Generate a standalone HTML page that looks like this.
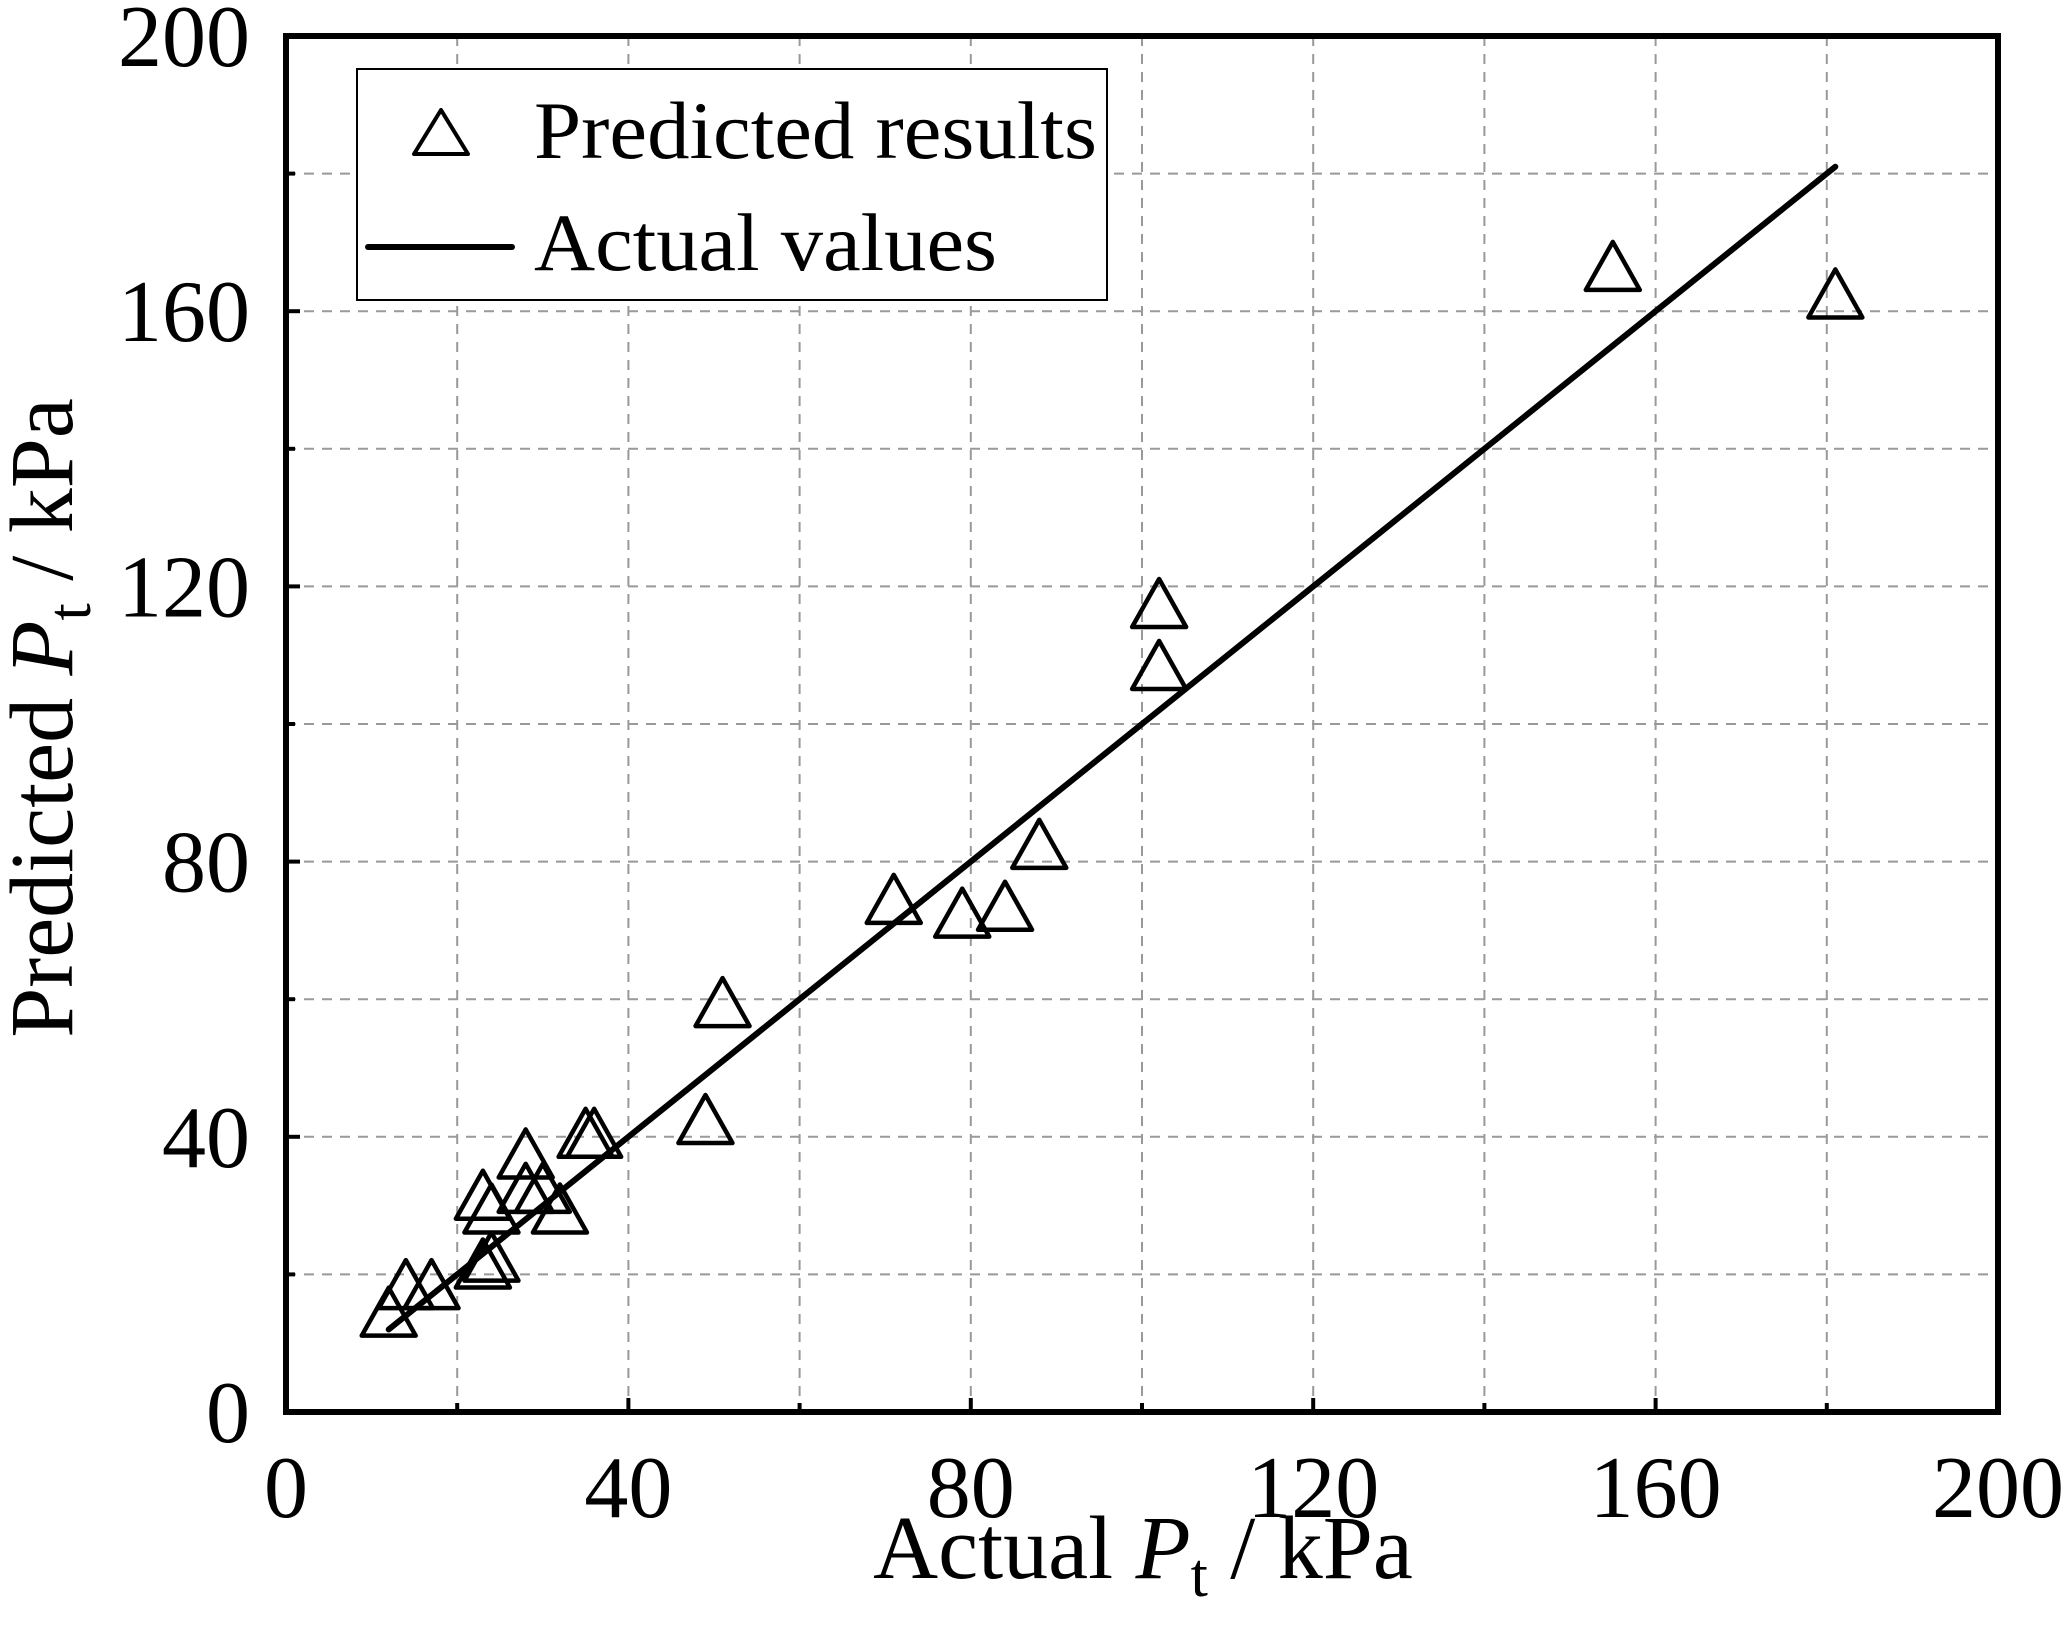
<!DOCTYPE html>
<html><head><meta charset="utf-8"><style>
html,body{margin:0;padding:0;background:#fff;}
svg{display:block;font-family:"Liberation Serif",serif;}
</style></head><body>
<svg id="chart" width="2066" height="1642" viewBox="0 0 2066 1642" xmlns="http://www.w3.org/2000/svg">
<g id="grid"></g>
<g id="series"></g>
<rect x="286" y="36" width="1712" height="1376" fill="none" stroke="#000" stroke-width="6"/>
<g id="ticks"></g>
<text x="1143" y="1578" font-size="90" text-anchor="middle">Actual <tspan font-style="italic">P</tspan><tspan font-size="62" dy="18">t</tspan><tspan dy="-18"> / kPa</tspan></text>
<text transform="translate(72,718) rotate(-90)" font-size="90" text-anchor="middle">Predicted <tspan font-style="italic">P</tspan><tspan font-size="62" dy="18">t</tspan><tspan dy="-18"> / kPa</tspan></text>
<g>
<rect x="357" y="69" width="750" height="231" fill="#fff" stroke="#000" stroke-width="2"/>
<polygon points="441,110 414,154 468,154" fill="none" stroke="#000" stroke-width="4" stroke-linejoin="round"/>
<text x="534" y="158" font-size="82" textLength="563" lengthAdjust="spacingAndGlyphs">Predicted results</text>
<line x1="368" y1="247" x2="512" y2="247" stroke="#000" stroke-width="6" stroke-linecap="round"/>
<text x="534" y="270" font-size="82" textLength="463" lengthAdjust="spacingAndGlyphs">Actual values</text>
</g>
</svg>
<script>
const xTicks=[0,40,80,120,160,200];
const yTicks=[0,40,80,120,160,200];
const actualX=[12,14,17,23,24,23,24,28,28,30,32,35,36,49,51,71,79,84,88,102,102,155,181];
const predictedY=[14,18,18,21,22,31,29,37,32,32,29,40,40,42,59,74,72,73,82,117,108,166,162];
const lineX=[12,181];
const lineY=[12,181];
const NS="http://www.w3.org/2000/svg";
const X0=286,X1=1998,Y0=1412,Y1=36;
function sx(v){return X0+(v-0)/200*(X1-X0);}
function sy(v){return Y0-(v-0)/200*(Y0-Y1);}
function mk(tag,attrs,parent){const e=document.createElementNS(NS,tag);for(const k in attrs)e.setAttribute(k,attrs[k]);parent.appendChild(e);return e;}
const grid=document.getElementById('grid'),ticks=document.getElementById('ticks'),series=document.getElementById('series');
for(let v=20;v<200;v+=20){
  const gx=mk('line',{x1:sx(v),x2:sx(v),y1:Y1,y2:Y0,stroke:'#999','stroke-width':2,'stroke-dasharray':'10,8'},grid);
  
  
  const gy=mk('line',{x1:X0,x2:X1,y1:sy(v),y2:sy(v),stroke:'#999','stroke-width':2,'stroke-dasharray':'10,8'},grid);
  
  
  const major=(v%40===0);const len=major?14:9;
  const tx=mk('line',{x1:sx(v),x2:sx(v),y1:Y0,y2:Y0-len,stroke:'#000','stroke-width':4},ticks);
  
  
  const ty=mk('line',{x1:X0,x2:X0+len,y1:sy(v),y2:sy(v),stroke:'#000','stroke-width':4},ticks);
  
  
}
xTicks.forEach(v=>{
  const t=mk('text',{x:sx(v),y:1517,'font-size':88,'text-anchor':'middle'},ticks);
  t.textContent=v;
  
  
});
yTicks.forEach(v=>{
  const t=mk('text',{x:250,y:sy(v)+30,'font-size':88,'text-anchor':'end'},ticks);
  t.textContent=v;
  
  
});
const ln=mk('line',{x1:sx(lineX[0]),y1:sy(lineY[0]),x2:sx(lineX[1]),y2:sy(lineY[1]),stroke:'#000','stroke-width':6,'stroke-linecap':'round'},series);


actualX.forEach((xv,i)=>{
  const cx=sx(xv),cy=sy(predictedY[i]);
  const p=mk('polygon',{points:`${cx},${cy-28} ${cx-27},${cy+20} ${cx+27},${cy+20}`,fill:'none',stroke:'#000','stroke-width':4.5,'stroke-linejoin':'round'},series);
  
  
});
</script>
</body></html>
